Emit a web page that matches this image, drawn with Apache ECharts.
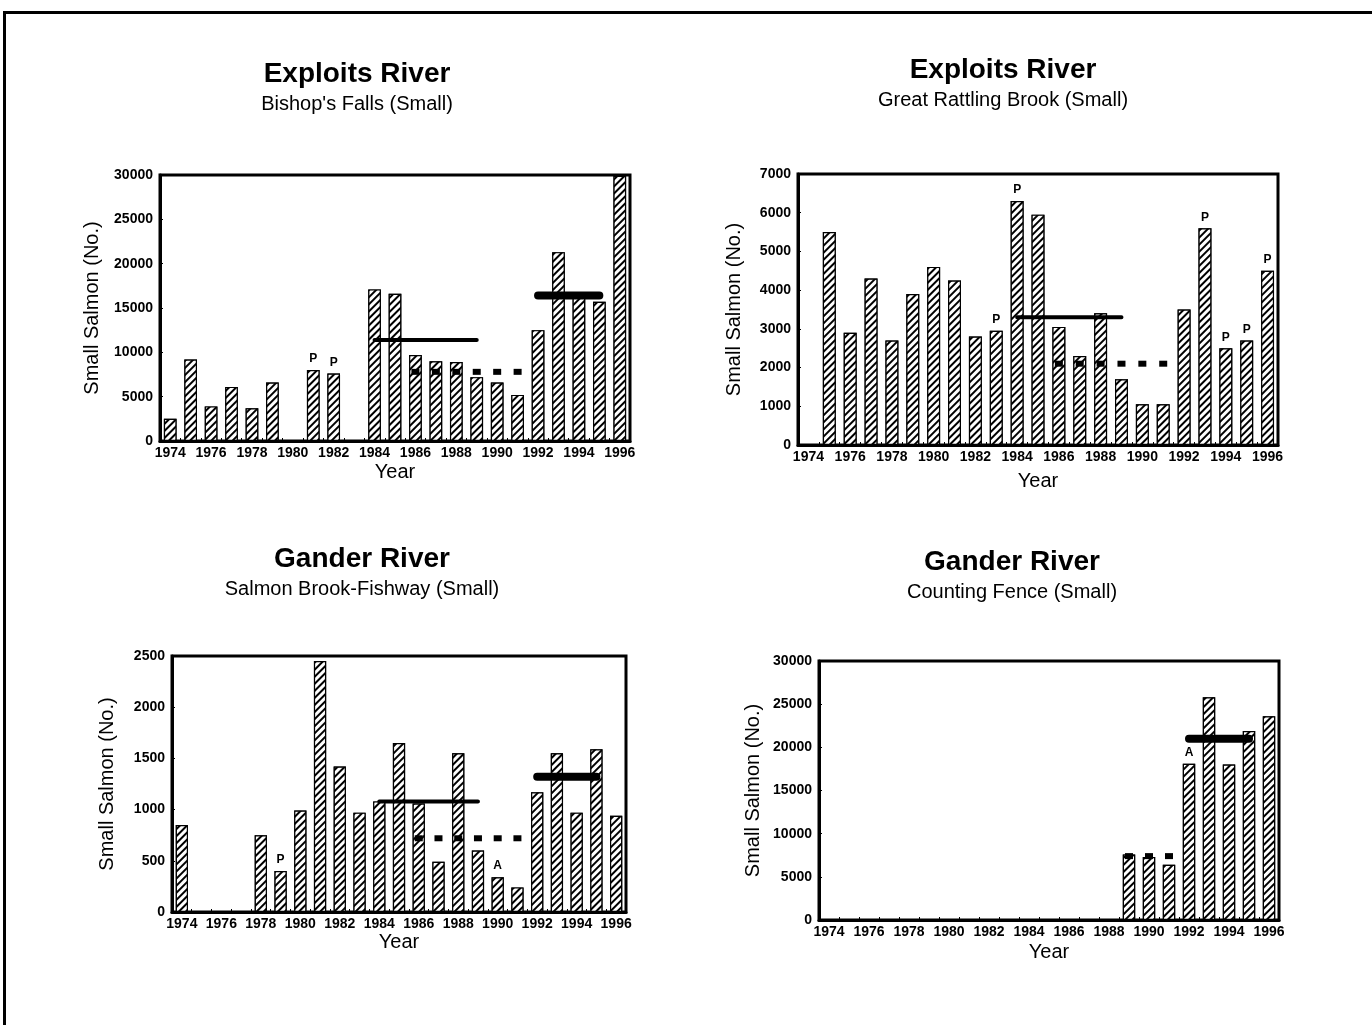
<!DOCTYPE html>
<html><head><meta charset="utf-8">
<script src="https://cdn.jsdelivr.net/npm/echarts@6/dist/echarts.min.js"></script>
<style>html,body{margin:0;padding:0;background:#fff}#c{width:1372px;height:1025px}</style>
</head><body><div id="c"></div>
<script>
// ---- DATA ----
const years = ['1974','1975','1976','1977','1978','1979','1980','1981','1982','1983','1984','1985','1986','1987','1988','1989','1990','1991','1992','1993','1994','1995','1996'];

const bishopsFalls = [2500, 9200, 3900, 6100, 3700, 6600, null, 8000, 7600, null, 17100, 16600, 9700, 9000, 8900, 7200, 6600, 5200, 12500, 21300, 16200, 15700, 29900];
const bishopsFlags = {'1981':'P','1982':'P'};
const bishopsMeans = [
  {from:'1984', to:'1989', value:11400, kind:'solid'},
  {from:'1986', to:'1991', value:7800, kind:'dotted'},
  {from:'1992', to:'1995', value:16400, kind:'thick'}
];

const greatRattling = [null, 5500, 2900, 4300, 2700, 3900, 4600, 4250, 2800, 2950, 6300, 5950, 3050, 2300, 3400, 1700, 1050, 1050, 3500, 5600, 2500, 2700, 4500];
const greatRattlingFlags = {'1983':'P','1984':'P','1993':'P','1994':'P','1995':'P','1996':'P'};
const greatRattlingMeans = [
  {from:'1984', to:'1989', value:3300, kind:'solid'},
  {from:'1986', to:'1991', value:2100, kind:'dotted'}
];

const salmonBrook = [850, null, null, null, 750, 400, 990, 2450, 1420, 970, 1080, 1650, 1060, 490, 1550, 600, 340, 240, 1170, 1550, 970, 1590, 940];
const salmonBrookFlags = {'1979':'P','1990':'A'};
const salmonBrookMeans = [
  {from:'1984', to:'1989', value:1080, kind:'solid'},
  {from:'1986', to:'1991', value:720, kind:'dotted'},
  {from:'1992', to:'1995', value:1320, kind:'thick'}
];

const countingFence = [null, null, null, null, null, null, null, null, null, null, null, null, null, null, null, 7600, 7300, 6400, 18100, 25800, 18000, 21900, 23600];
const countingFenceFlags = {'1992':'A'};
const countingFenceMeans = [
  {from:'1989', to:'1991', value:7400, kind:'dotted'},
  {from:'1992', to:'1995', value:21000, kind:'thick'}
];

const yMaxes = [30000, 7000, 2500, 30000];
const yIntervals = [5000, 1000, 500, 5000];
const titles = ['Exploits River', 'Exploits River', 'Gander River', 'Gander River'];
const subtitles = ["Bishop's Falls (Small)", 'Great Rattling Brook (Small)', 'Salmon Brook-Fishway (Small)', 'Counting Fence (Small)'];
const yName = 'Small Salmon (No.)';
const xName = 'Year';

// ---- LAYOUT ----
const FONT = 'Liberation Sans, Arial, sans-serif';
const panels = [
  {data: bishopsFalls, flags: bishopsFlags, means: bishopsMeans, grid:{left:160, top:175, width:470, height:266}, yGap:58, xGap:21, tx:357, ty:60},
  {data: greatRattling, flags: greatRattlingFlags, means: greatRattlingMeans, grid:{left:798, top:174, width:480, height:271}, yGap:54, xGap:26, tx:1003, ty:56},
  {data: salmonBrook, flags: salmonBrookFlags, means: salmonBrookMeans, grid:{left:172, top:656, width:454, height:256}, yGap:55, xGap:20, tx:362, ty:545},
  {data: countingFence, flags: countingFenceFlags, means: countingFenceMeans, grid:{left:819, top:661, width:460, height:259}, yGap:56, xGap:22, tx:1012, ty:548}
];

const grids = [], xAxes = [], yAxes = [], series = [], titleOpts = [];
panels.forEach((p, i) => {
  grids.push(Object.assign({show:true, borderColor:'#000', borderWidth:3, backgroundColor:'transparent'}, p.grid));
  xAxes.push({
    type:'category', gridIndex:i, data:years, boundaryGap:true,
    name:xName, nameLocation:'middle', nameGap:p.xGap,
    nameTextStyle:{fontFamily:FONT, fontSize:20, color:'#000'},
    axisLine:{lineStyle:{color:'#000', width:3}},
    axisTick:{show:true, inside:true, length:3, interval:0, lineStyle:{color:'#000', width:1}},
    axisLabel:{interval:1, color:'#000', fontFamily:FONT, fontSize:14, fontWeight:'bold', margin:5},
    splitLine:{show:false}
  });
  yAxes.push({
    type:'value', gridIndex:i, min:0, max:yMaxes[i], interval:yIntervals[i],
    name:yName, nameLocation:'middle', nameGap:p.yGap, nameRotate:90,
    nameTextStyle:{fontFamily:FONT, fontSize:20, color:'#000'},
    axisLine:{show:true, lineStyle:{color:'#000', width:3}},
    axisTick:{show:true, inside:true, length:3, lineStyle:{color:'#000', width:1}},
    axisLabel:{color:'#000', fontFamily:FONT, fontSize:14, fontWeight:'bold', margin:7, formatter:(v) => String(v)},
    splitLine:{show:false}
  });
  series.push({
    type:'bar', xAxisIndex:i, yAxisIndex:i, data:p.data, barWidth:'62%', z:2,
    itemStyle:{
      color:'#fff', borderColor:'#000', borderWidth:1.2,
      decal:{symbol:'rect', symbolSize:1, dashArrayX:[1,0], dashArrayY:[1.5,2.2], rotation:-Math.PI/4, color:'#000', backgroundColor:'#fff'}
    },
    label:{show:true, position:'top', distance:5, color:'#000', fontFamily:FONT, fontSize:12, fontWeight:'bold',
      formatter: (d) => p.flags[years[d.dataIndex]] || ''},
    emphasis:{disabled:true}, silent:true
  });
  p.means.forEach(m => {
    const d = years.map(y => (y >= m.from && y <= m.to) ? m.value : null);
    if (m.kind === 'dotted') {
      series.push({type:'scatter', xAxisIndex:i, yAxisIndex:i, data:d, symbol:'rect', symbolSize:[8,6], z:5,
        itemStyle:{color:'#000', opacity:1}, silent:true});
    } else {
      series.push({type:'line', xAxisIndex:i, yAxisIndex:i, data:d, showSymbol:false, symbol:'none', connectNulls:false, z:5,
        lineStyle:{color:'#000', width: m.kind === 'thick' ? 8 : 4, cap:'round'}, silent:true});
    }
  });
  titleOpts.push({
    text:titles[i], subtext:subtitles[i], left:p.tx, top:p.ty, textAlign:'center', itemGap:6, padding:0,
    textStyle:{fontFamily:FONT, fontSize:28, fontWeight:'bold', color:'#000'},
    subtextStyle:{fontFamily:FONT, fontSize:20, color:'#000'}
  });
});

const chart = echarts.init(document.getElementById('c'), null, {renderer:'canvas'});
chart.setOption({
  backgroundColor:'#fff',
  animation:false,
  title:titleOpts,
  grid:grids, xAxis:xAxes, yAxis:yAxes, series:series,
  graphic:[
    {type:'line', shape:{x1:3, y1:12.5, x2:1372, y2:12.5}, style:{stroke:'#000', lineWidth:3}},
    {type:'line', shape:{x1:4.5, y1:11, x2:4.5, y2:1025}, style:{stroke:'#000', lineWidth:3}}
  ]
});
</script>
</body></html>
